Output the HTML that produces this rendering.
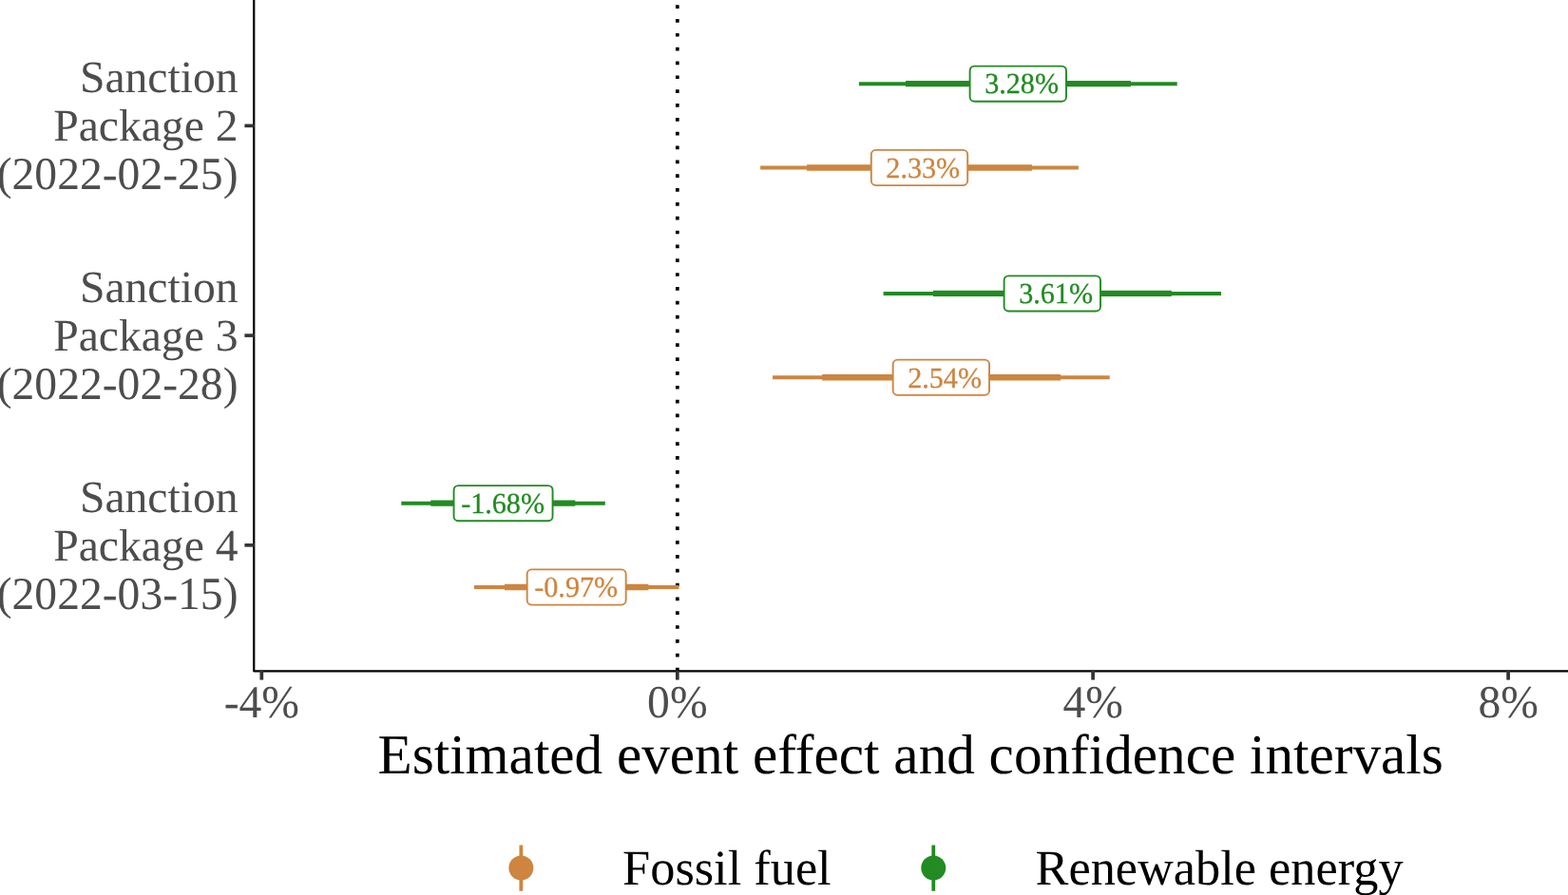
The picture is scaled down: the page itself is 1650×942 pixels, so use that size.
<!DOCTYPE html>
<html lang="en"><head><meta charset="utf-8"><title>Estimated event effect and confidence intervals</title>
<style>
html,body{margin:0;padding:0;background:#fff;}
body{width:1650px;height:942px;overflow:hidden;}
svg{display:block;}
text{font-family:"Liberation Serif","Times New Roman",Times,serif;text-rendering:geometricPrecision;}
.ax{font-size:47.6px;fill:#4D4D4D;}
.ttl{font-size:59.2px;fill:#000;}
.leg{font-size:52.35px;fill:#000;}
.lab{font-size:30.15px;}
</style></head><body>
<svg width="1650" height="942" viewBox="0 0 1650 942">
<rect x="0" y="0" width="1650" height="942" fill="#fff"/>
<g id="zero-line"><line x1="712.8" y1="-9.64" x2="712.8" y2="706.3" stroke="#000" stroke-width="3.71" stroke-dasharray="3.71 11.13"/></g>
<g id="estimates">
<line x1="903.9" y1="88.2" x2="1238.7" y2="88.2" stroke="#228B22" stroke-width="4"/>
<line x1="953" y1="88.2" x2="1189.9" y2="88.2" stroke="#228B22" stroke-width="6.3"/>
<rect x="1020.60" y="69.60" width="101.40" height="37.20" rx="4.8" ry="4.8" fill="#fff" stroke="#228B22" stroke-width="1.9"/>
<text class="lab" transform="translate(1036.14 98.45) scale(1 1.017)" fill="#228B22" stroke="#228B22" stroke-width="0.3">3.28%</text>
<line x1="800.1" y1="176.5" x2="1134.9" y2="176.5" stroke="#CD853F" stroke-width="4"/>
<line x1="849.1" y1="176.5" x2="1085.9" y2="176.5" stroke="#CD853F" stroke-width="6.3"/>
<rect x="916.80" y="157.90" width="101.40" height="37.20" rx="4.8" ry="4.8" fill="#fff" stroke="#CD853F" stroke-width="1.9"/>
<text class="lab" transform="translate(932.34 186.75) scale(1 1.017)" fill="#CD853F" stroke="#CD853F" stroke-width="0.3">2.33%</text>
<line x1="929.6" y1="308.95" x2="1285" y2="308.95" stroke="#228B22" stroke-width="4"/>
<line x1="981.9" y1="308.95" x2="1232.8" y2="308.95" stroke="#228B22" stroke-width="6.3"/>
<rect x="1056.60" y="290.35" width="101.40" height="37.20" rx="4.8" ry="4.8" fill="#fff" stroke="#228B22" stroke-width="1.9"/>
<text class="lab" transform="translate(1072.14 319.20) scale(1 1.017)" fill="#228B22" stroke="#228B22" stroke-width="0.3">3.61%</text>
<line x1="813" y1="397.25" x2="1167.7" y2="397.25" stroke="#CD853F" stroke-width="4"/>
<line x1="865.2" y1="397.25" x2="1116.1" y2="397.25" stroke="#CD853F" stroke-width="6.3"/>
<rect x="939.65" y="378.65" width="101.40" height="37.20" rx="4.8" ry="4.8" fill="#fff" stroke="#CD853F" stroke-width="1.9"/>
<text class="lab" transform="translate(955.19 407.50) scale(1 1.017)" fill="#CD853F" stroke="#CD853F" stroke-width="0.3">2.54%</text>
<line x1="422.3" y1="529.7" x2="636.8" y2="529.7" stroke="#228B22" stroke-width="4"/>
<line x1="453.3" y1="529.7" x2="605.3" y2="529.7" stroke="#228B22" stroke-width="6.3"/>
<rect x="477.55" y="511.10" width="104.00" height="37.20" rx="4.8" ry="4.8" fill="#fff" stroke="#228B22" stroke-width="1.9"/>
<text class="lab" transform="translate(485.15 539.95) scale(1 1.017)" fill="#228B22" stroke="#228B22" stroke-width="0.3">-1.68%</text>
<line x1="498.9" y1="618" x2="714.4" y2="618" stroke="#CD853F" stroke-width="4"/>
<line x1="530.9" y1="618" x2="682.4" y2="618" stroke="#CD853F" stroke-width="6.3"/>
<rect x="554.65" y="599.40" width="104.00" height="37.20" rx="4.8" ry="4.8" fill="#fff" stroke="#CD853F" stroke-width="1.9"/>
<text class="lab" transform="translate(562.25 628.25) scale(1 1.017)" fill="#CD853F" stroke="#CD853F" stroke-width="0.3">-0.97%</text>
</g>
<g id="axes">
<path d="M267.2 0 L267.2 706.3 L1652 706.3" fill="none" stroke="#000" stroke-width="2.3" stroke-linejoin="round"/>
<line x1="275.3" y1="705.7" x2="275.3" y2="715.6" stroke="#333333" stroke-width="3.7"/>
<text class="ax" transform="translate(275.3 754.8) scale(1 1.017)" text-anchor="middle">-4%</text>
<line x1="712.8" y1="705.7" x2="712.8" y2="715.6" stroke="#333333" stroke-width="3.7"/>
<text class="ax" transform="translate(712.8 754.8) scale(1 1.017)" text-anchor="middle">0%</text>
<line x1="1150.1" y1="705.7" x2="1150.1" y2="715.6" stroke="#333333" stroke-width="3.7"/>
<text class="ax" transform="translate(1150.1 754.8) scale(1 1.017)" text-anchor="middle">4%</text>
<line x1="1587.1" y1="705.7" x2="1587.1" y2="715.6" stroke="#333333" stroke-width="3.7"/>
<text class="ax" transform="translate(1587.1 754.8) scale(1 1.017)" text-anchor="middle">8%</text>
<line x1="257.4" y1="132.35" x2="267.8" y2="132.35" stroke="#333333" stroke-width="3.6"/>
<text class="ax" x="250.5" y="97.20" text-anchor="end">Sanction</text>
<text class="ax" x="250.5" y="148.20" text-anchor="end">Package 2</text>
<text class="ax" transform="translate(250.5 199.20) scale(1 1.017)" text-anchor="end">(2022-02-25)</text>
<line x1="257.4" y1="353.1" x2="267.8" y2="353.1" stroke="#333333" stroke-width="3.6"/>
<text class="ax" x="250.5" y="317.95" text-anchor="end">Sanction</text>
<text class="ax" x="250.5" y="368.95" text-anchor="end">Package 3</text>
<text class="ax" transform="translate(250.5 419.95) scale(1 1.017)" text-anchor="end">(2022-02-28)</text>
<line x1="257.4" y1="573.85" x2="267.8" y2="573.85" stroke="#333333" stroke-width="3.6"/>
<text class="ax" x="250.5" y="538.70" text-anchor="end">Sanction</text>
<text class="ax" x="250.5" y="589.70" text-anchor="end">Package 4</text>
<text class="ax" transform="translate(250.5 640.70) scale(1 1.017)" text-anchor="end">(2022-03-15)</text>
</g>
<text class="ttl" x="397.5" y="813.8">Estimated event effect and confidence intervals</text>
<g id="legend">
<line x1="548.35" y1="889.5" x2="548.35" y2="937.8" stroke="#CD853F" stroke-width="3.8"/>
<circle cx="548.35" cy="913.5" r="13" fill="#CD853F"/>
<text class="leg" x="655.1" y="930.8">Fossil fuel</text>
<line x1="982.25" y1="889.5" x2="982.25" y2="937.8" stroke="#228B22" stroke-width="3.8"/>
<circle cx="982.25" cy="913.5" r="13" fill="#228B22"/>
<text class="leg" x="1089.5" y="930.8">Renewable energy</text>
</g>
</svg>
</body></html>
